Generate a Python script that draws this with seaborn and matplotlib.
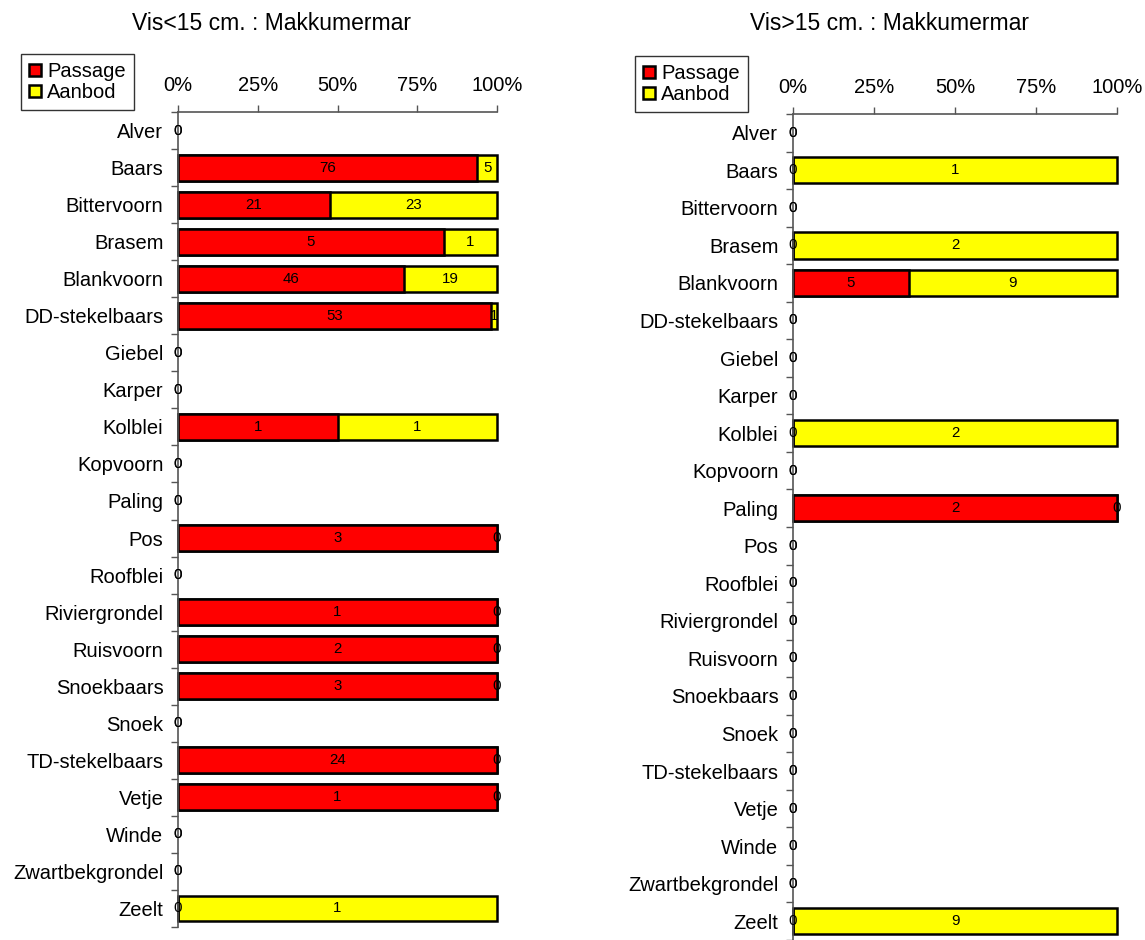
import numpy as np
import pandas as pd
import matplotlib
matplotlib.use("Agg")
import matplotlib.pyplot as plt
from matplotlib.patches import Patch
import seaborn as sns

sns.set_theme(style="white")
plt.rcParams["font.family"] = ["Liberation Sans", "DejaVu Sans"]
plt.rcParams["text.color"] = "black"

# Fish species, top to bottom
fish = ["Alver", "Baars", "Bittervoorn", "Brasem", "Blankvoorn", "DD-stekelbaars",
        "Giebel", "Karper", "Kolblei", "Kopvoorn", "Paling", "Pos", "Roofblei",
        "Riviergrondel", "Ruisvoorn", "Snoekbaars", "Snoek", "TD-stekelbaars",
        "Vetje", "Winde", "Zwartbekgrondel", "Zeelt"]

# Counts for fish < 15 cm
small_passage = [0, 76, 21, 5, 46, 53, 0, 0, 1, 0, 0, 3, 0, 1, 2, 3, 0, 24, 1, 0, 0, 0]
small_aanbod = [0, 5, 23, 1, 19, 1, 0, 0, 1, 0, 0, 0, 0, 0, 0, 0, 0, 0, 0, 0, 0, 1]

# Counts for fish > 15 cm
large_passage = [0, 0, 0, 0, 5, 0, 0, 0, 0, 0, 2, 0, 0, 0, 0, 0, 0, 0, 0, 0, 0, 0]
large_aanbod = [0, 1, 0, 2, 9, 0, 0, 0, 2, 0, 0, 0, 0, 0, 0, 0, 0, 0, 0, 0, 0, 9]

pct_ticks = [0, 25, 50, 75, 100]
pct_labels = ["0%", "25%", "50%", "75%", "100%"]

RED = "#FF0000"
YELLOW = "#FFFF00"
AXIS_COL = "#555555"
FS = 14.5
FS_TITLE = 16.5
FS_BAR = 10.8

W, H = 1145, 940
fig = plt.figure(figsize=(W / 100, H / 100), dpi=100)


def draw_panel(rect, passage, aanbod, title, title_xy, legend_xy):
    ax = fig.add_axes(rect)
    df = pd.DataFrame({"soort": fish, "Passage": passage, "Aanbod": aanbod})
    df["totaal"] = df["Passage"] + df["Aanbod"]
    has = df["totaal"] > 0
    df["pct_p"] = np.where(has, df["Passage"] / df["totaal"].where(has, 1) * 100, 0.0)
    df["pct_tot"] = np.where(has, 100.0, 0.0)
    present = df[has]

    # stacked 100% bars: full-length Aanbod bar underneath, Passage on top
    sns.barplot(data=present, y="soort", x="pct_tot", order=fish, orient="h",
                color=YELLOW, saturation=1, edgecolor="black", linewidth=1.8,
                width=0.7, errorbar=None, ax=ax)
    sns.barplot(data=present, y="soort", x="pct_p", order=fish, orient="h",
                color=RED, saturation=1, edgecolor="black", linewidth=1.8,
                width=0.7, errorbar=None, ax=ax)
    for p in ax.patches:
        p.set_clip_on(False)

    # counts centred in each segment
    for i, row in df.iterrows():
        ax.text(row["pct_p"] / 2, i, str(row["Passage"]), ha="center", va="center",
                fontsize=FS_BAR, color="black")
        ax.text(row["pct_p"] + (row["pct_tot"] - row["pct_p"]) / 2, i, str(row["Aanbod"]),
                ha="center", va="center", fontsize=FS_BAR, color="black")

    n = len(fish)
    ax.set_xlim(0, 100)
    ax.set_ylim(n - 0.5, -0.5)
    ax.set_xlabel("")
    ax.set_ylabel("")

    ax.xaxis.tick_top()
    ax.set_xticks(pct_ticks)
    ax.set_xticklabels(pct_labels, fontsize=FS)
    ax.tick_params(axis="x", top=True, bottom=False, direction="out", length=5,
                   width=1, color=AXIS_COL, pad=7, labelcolor="black")

    ax.set_yticks(range(n))
    ax.set_yticklabels(fish, fontsize=FS)
    ax.set_yticks(np.arange(-0.5, n, 1.0), minor=True)
    ax.tick_params(axis="y", which="major", left=True, length=0, pad=10.5,
                   labelcolor="black")
    ax.tick_params(axis="y", which="minor", left=True, direction="out", length=5,
                   width=1, color=AXIS_COL)

    for side in ["right", "bottom"]:
        ax.spines[side].set_visible(False)
    for side in ["top", "left"]:
        ax.spines[side].set_visible(True)
        ax.spines[side].set_color(AXIS_COL)
        ax.spines[side].set_linewidth(1.2)
    ax.set_facecolor("white")

    fig.text(title_xy[0] / W, 1 - title_xy[1] / H, title, ha="center", va="center",
             fontsize=FS_TITLE, color="black")

    handles = [Patch(facecolor=RED, edgecolor="black", linewidth=1.8),
               Patch(facecolor=YELLOW, edgecolor="black", linewidth=1.8)]
    leg = fig.legend(handles, ["Passage", "Aanbod"], loc="upper left",
                     bbox_to_anchor=(legend_xy[0] / W, 1 - legend_xy[1] / H),
                     frameon=True, fancybox=False, edgecolor="black", fontsize=FS,
                     labelcolor="black",
                     handlelength=0.6, handleheight=0.6, handletextpad=0.3,
                     labelspacing=0.1, borderpad=0.4, borderaxespad=0)
    leg.get_frame().set_linewidth(1.0)
    return ax


draw_panel([178 / W, 1 - 927 / H, 319 / W, 815 / H], small_passage, small_aanbod,
           "Vis<15 cm. : Makkumermar", (272, 24), (21, 54))
draw_panel([793 / W, 0.0, 324 / W, 826 / H], large_passage, large_aanbod,
           "Vis>15 cm. : Makkumermar", (890, 24), (635, 56))

fig.savefig("out.png", dpi=100, facecolor="white")
